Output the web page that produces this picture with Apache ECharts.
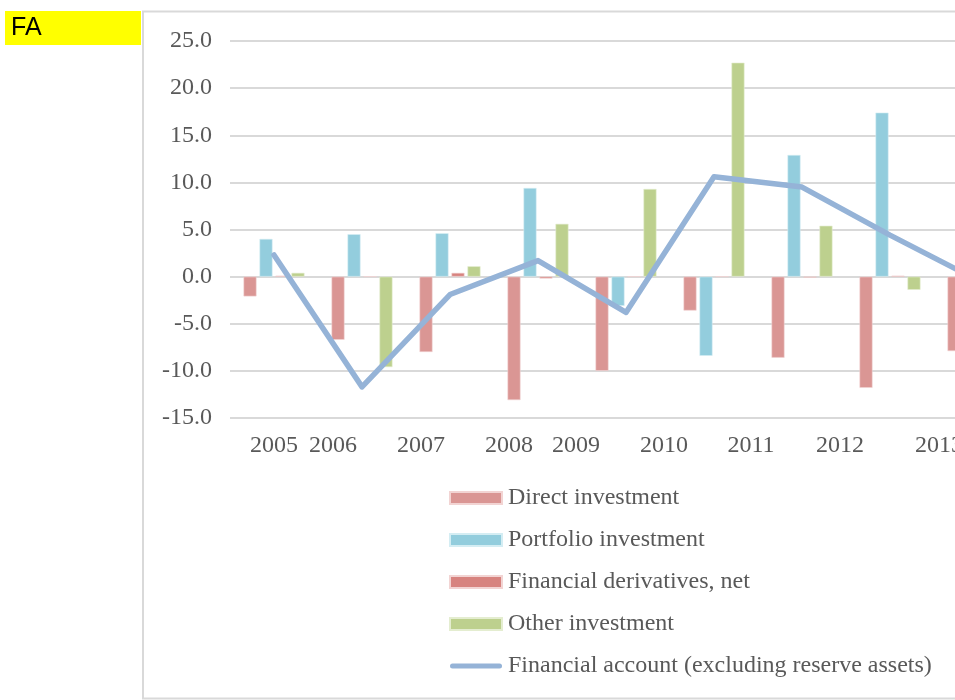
<!DOCTYPE html>
<html>
<head>
<meta charset="utf-8">
<script src="https://cdn.jsdelivr.net/npm/echarts@6/dist/echarts.min.js"></script>
<style>
html,body{margin:0;padding:0;background:#fff;overflow:hidden;width:955px;height:700px;}
#c{width:1030px;height:700px;}
</style>
</head>
<body>
<div id="c"></div>
<script>
const years = ['2005','2006','2007','2008','2009','2010','2011','2012','2013'];
const directInvestment = [-2.1, -6.7, -8.0, -13.1, -10.0, -3.6, -8.6, -11.8, -7.9];
const portfolioInvestment = [4.0, 4.5, 4.6, 9.4, -3.1, -8.4, 12.9, 17.4, 5.5];
const financialDerivatives = [0.1, 0.0, 0.4, -0.2, 0.0, 0.0, -0.1, 0.1, 0.0];
const otherInvestment = [0.4, -9.6, 1.1, 5.6, 9.3, 22.7, 5.4, -1.4, 2.0];
const financialAccount = [2.3, -11.7, -1.9, 1.7, -3.8, 10.6, 9.5, 4.4, -0.4];

const seriesNames = ['Direct investment','Portfolio investment','Financial derivatives, net','Other investment','Financial account (excluding reserve assets)'];

// label placement styling (shift of each category label, px)
const labelShift = [0, -29, -29, -29, -50, -50, -51, -50, -39];
const rich = {};
labelShift.forEach((s, i) => { rich['s' + i] = { padding: [0, -2 * s, 0, 0] }; });

const serif = '"Liberation Serif", "Times New Roman", serif';
const textColor = '#595959';

const chart = echarts.init(document.getElementById('c'), null, {renderer: 'canvas'});
const barCommon = { type: 'bar', barWidth: 13, barGap: '23%', animation: false };
chart.setOption({
  animation: false,
  backgroundColor: '#fff',
  graphic: [
    { type: 'rect', shape: { x: 143, y: 11.5, width: 880, height: 687 }, style: { fill: 'none', stroke: '#d9d9d9', lineWidth: 2 }, z: -1 },
    { type: 'rect', shape: { x: 5, y: 11, width: 136, height: 34 }, style: { fill: '#ffff00' } },
    { type: 'text', x: 11, y: 28, style: { text: 'FA', font: '25px "Liberation Sans", Arial, sans-serif', fill: '#000', verticalAlign: 'middle' } }
  ],
  grid: { left: 230, right: 8, top: 41, bottom: 282, containLabel: false, outerBoundsMode: 'none' },
  legend: {
    orient: 'vertical', left: 449, top: 486, padding: 0, itemWidth: 52, itemHeight: 12, itemGap: 18,
    textStyle: { fontFamily: serif, fontSize: 24, color: textColor, padding: [0, 0, 0, 1] },
    data: [
      { name: seriesNames[0], icon: 'rect' },
      { name: seriesNames[1], icon: 'rect' },
      { name: seriesNames[2], icon: 'rect' },
      { name: seriesNames[3], icon: 'rect' },
      { name: seriesNames[4], icon: 'path://M2.5,0 L49.5,0 A2.5,2.5 0 0 1 49.5,5 L2.5,5 A2.5,2.5 0 0 1 2.5,0 Z', itemStyle: { color: '#95b3d7' } }
    ]
  },
  xAxis: {
    type: 'category', data: years,
    axisLine: { show: false, onZero: false }, axisTick: { show: false },
    axisLabel: {
      interval: 0, margin: 16, fontFamily: serif, fontSize: 24, color: textColor,
      formatter: (v, i) => '{s' + i + '|' + v + '}', rich: rich
    }
  },
  yAxis: {
    type: 'value', min: -15, max: 25, interval: 5,
    axisLine: { show: false }, axisTick: { show: false },
    axisLabel: { margin: 18, fontFamily: serif, fontSize: 24, color: textColor, formatter: v => v.toFixed(1) },
    splitLine: { lineStyle: { color: '#d9d9d9', width: 2 } }
  },
  series: [
    Object.assign({}, barCommon, { name: seriesNames[0], data: directInvestment, itemStyle: { color: '#da9694', borderColor: '#f2d4d3', borderWidth: 0.6 } }),
    Object.assign({}, barCommon, { name: seriesNames[1], data: portfolioInvestment, itemStyle: { color: '#93cddd', borderColor: '#d4edf3', borderWidth: 0.6 } }),
    Object.assign({}, barCommon, { name: seriesNames[2], data: financialDerivatives, itemStyle: { color: '#d7837f', borderColor: '#f2d4d3', borderWidth: 0.6 } }),
    Object.assign({}, barCommon, { name: seriesNames[3], data: otherInvestment, itemStyle: { color: '#bdd08e', borderColor: '#e4edd0', borderWidth: 0.6 } }),
    { type: 'line', name: seriesNames[4], data: financialAccount, symbol: 'none', showSymbol: false,
      lineStyle: { color: '#95b3d7', width: 5.5, cap: 'round', join: 'round' }, itemStyle: { color: '#95b3d7' }, z: 5 }
  ]
});
</script>
</body>
</html>
